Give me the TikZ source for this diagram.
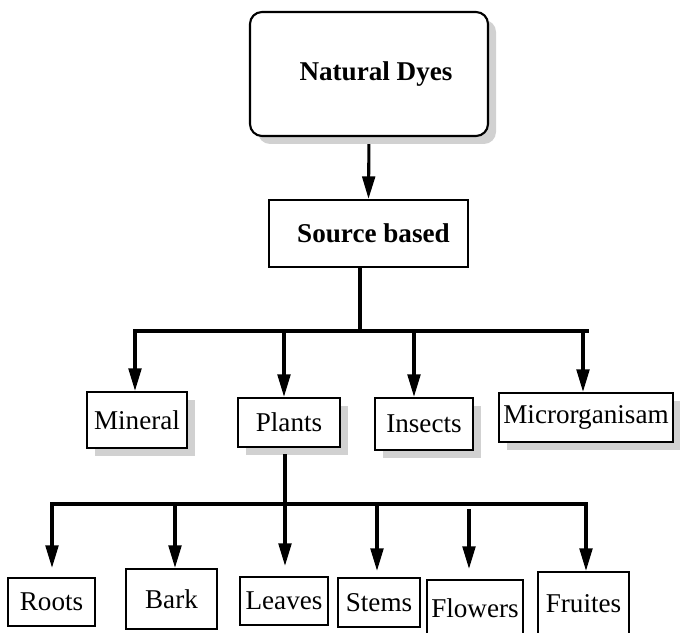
\documentclass[tikz,border=0pt]{standalone}
\usepackage{fontspec}
\setmainfont{Liberation Serif}
\usetikzlibrary{arrows.meta,shadows}

\begin{document}
\begin{tikzpicture}[
      box/.style={draw,line width=1.5pt,fill=white,inner sep=0pt},
      shade/.style={drop shadow={shadow xshift=0.2cm,shadow yshift=-0.2cm,fill=black!18,opacity=1}},
      bold/.style={font=\fontsize{19.3}{22}\selectfont\bfseries},
      title/.style={box,shade,bold,rounded corners=0.3cm},
      cat/.style={box,shade},
      part/.style={box},
      link/.style={line width=2.2pt},
      bus/.style={link,line cap=rect},
      >={Triangle[length=16pt,width=9pt]},
      every node/.style={font=\fontsize{19.3}{22}\selectfont}
]
\useasboundingbox (0,0) rectangle (17,15.825);
\clip (0,0) rectangle (17,15.825);

\node[title,minimum width=5.95cm,minimum height=3.1cm] (dyes) at (9.225,13.975) {\hspace*{0.35cm}Natural Dyes};
\node[box,bold,minimum width=4.975cm,minimum height=1.675cm] (source) at (9.2125,9.9875) {\hspace*{0.25cm}Source based};

% sources
\node[cat,minimum width=2.5cm,minimum height=1.4cm] (mineral) at (3.425,5.325) {Mineral};
\node[cat,minimum width=2.55cm,minimum height=1.225cm] (plants) at (7.225,5.2625) {Plants};
\node[cat,minimum width=2.45cm,minimum height=1.3cm] (insects) at (10.6,5.225) {Insects};
\node[cat,minimum width=4.35cm,minimum height=1.225cm] (micro) at (14.65,5.3875) {Microrganisam};

% plant parts
\node[part,minimum width=2.175cm,minimum height=1.2cm] (roots) at (1.2875,0.775) {Roots};
\node[part,minimum width=2.275cm,minimum height=1.5cm] (bark) at (4.2875,0.85) {Bark};
\node[part,minimum width=2.2cm,minimum height=1.2cm] (leaves) at (7.1,0.8) {Leaves};
\node[part,minimum width=2.05cm,minimum height=1.225cm] (stems) at (9.475,0.7625) {Stems};
\node[part,minimum width=2.4cm,minimum height=1.4cm] (flowers) at (11.875,0.625) {Flowers};
\node[part,minimum width=2.275cm,minimum height=1.6cm] (fruits) at (14.5875,0.725) {Fruites};

\coordinate (split) at (9.0,7.55);
\coordinate (bus1w) at (3.375,7.55);
\coordinate (bus1e) at (14.675,7.55);
\coordinate (fork) at (7.125,3.225);
\coordinate (bus2w) at (1.3,3.225);
\coordinate (bus2e) at (14.65,3.225);

\draw[->,link,shorten <=0.175cm] (dyes.south) -- (source.north);
\draw[link] (source.south -| split) -- (split);
\draw[bus] (bus1w) -- (bus1e);
\foreach \n/\x in {mineral/3.375,plants/7.1,insects/10.35,micro/14.575} {
      \draw[->,link] (split -| \x,0) -- (\n.north -| \x,0);
}

\draw[link,shorten <=0.15cm] (plants.south -| fork) -- (fork);
\draw[bus] (bus2w) -- (bus2e);
\foreach \n/\x/\gap in {roots/1.3/0.225cm,bark/4.375/0cm,leaves/7.125/0.25cm,stems/9.425/0.15cm,fruits/14.65/0cm} {
      \draw[->,link,shorten >=\gap] (fork -| \x,0) -- (\n.north -| \x,0);
}
\draw[->,link,shorten <=0.13cm,shorten >=0.25cm] (fork -| 11.725,0) -- (flowers.north -| 11.725,0);
\end{tikzpicture}
\end{document}
